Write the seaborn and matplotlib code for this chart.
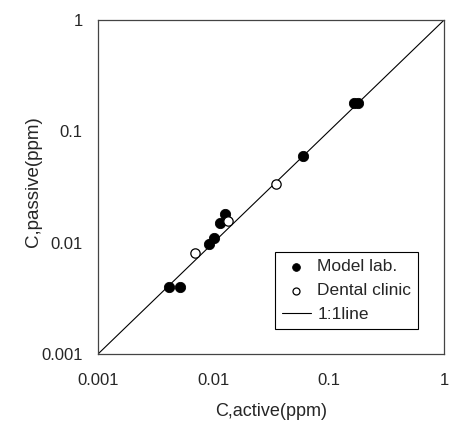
import pandas as pd
import numpy as np
import matplotlib
matplotlib.use("Agg")
import matplotlib.pyplot as plt
import seaborn as sns

# values (ppm)
model_active = [0.0041, 0.0051, 0.0092, 0.0102, 0.0115, 0.0125, 0.060, 0.165, 0.178]
model_passive = [0.0040, 0.0040, 0.0098, 0.0110, 0.0150, 0.0180, 0.060, 0.178, 0.178]
clinic_active = [0.0069, 0.0135, 0.035]
clinic_passive = [0.0080, 0.0158, 0.034]
line_x = [0.001, 1]
line_y = [0.001, 1]
ticks = [0.001, 0.01, 0.1, 1]
tick_labels = ["0.001", "0.01", "0.1", "1"]

sns.set_style("white")
plt.rcParams["font.family"] = ["Liberation Sans", "DejaVu Sans"]

model = pd.DataFrame({"active": model_active, "passive": model_passive})
clinic = pd.DataFrame({"active": clinic_active, "passive": clinic_passive})
one = pd.DataFrame({"active": line_x, "passive": line_y})

fig = plt.figure(figsize=(4.5, 4.21), dpi=100)
ax = fig.add_axes([0.2178, 0.1591, 0.769, 0.7933])

sns.lineplot(data=one, x="active", y="passive", ax=ax, color="black", lw=0.8,
             label="1:1line", zorder=1)
sns.scatterplot(data=model, x="active", y="passive", ax=ax, color="black",
                edgecolor="black", s=55, label="Model lab.", zorder=3)
sns.scatterplot(data=clinic, x="active", y="passive", ax=ax, facecolor="white",
                edgecolor="black", linewidth=0.9, s=45, label="Dental clinic", zorder=3)

ax.set_xscale("log")
ax.set_yscale("log")
ax.set_xlim(0.001, 1)
ax.set_ylim(0.001, 1)
ax.set_xticks(ticks)
ax.set_xticklabels(tick_labels)
ax.set_yticks(ticks)
ax.set_yticklabels(tick_labels)
ax.minorticks_off()
ax.tick_params(axis="both", direction="in", length=4, width=0.8, color="#555555",
               labelsize=12, top=False, right=False)
ax.tick_params(axis="x", pad=14)
ax.tick_params(axis="y", pad=11)
for s in ax.spines.values():
    s.set_color("#444444")
    s.set_linewidth(0.9)

ax.set_xlabel("C,active(ppm)", fontsize=13)
ax.set_ylabel("C,passive(ppm)", fontsize=13.5)
ax.xaxis.set_label_coords(0.5, -0.148)
ax.yaxis.set_label_coords(-0.162, 0.515)

h, l = ax.get_legend_handles_labels()
order = [l.index("Model lab."), l.index("Dental clinic"), l.index("1:1line")]
leg = ax.legend([h[i] for i in order], [l[i] for i in order], loc="lower right",
                bbox_to_anchor=(0.925, 0.075), fontsize=12.5, frameon=True,
                fancybox=False, edgecolor="black", framealpha=1, markerscale=0.75,
                handlelength=1.7, handletextpad=0.35, borderpad=0.4,
                labelspacing=0.5, borderaxespad=0)
leg.get_frame().set_linewidth(0.8)

fig.savefig("out.png", dpi=100)
